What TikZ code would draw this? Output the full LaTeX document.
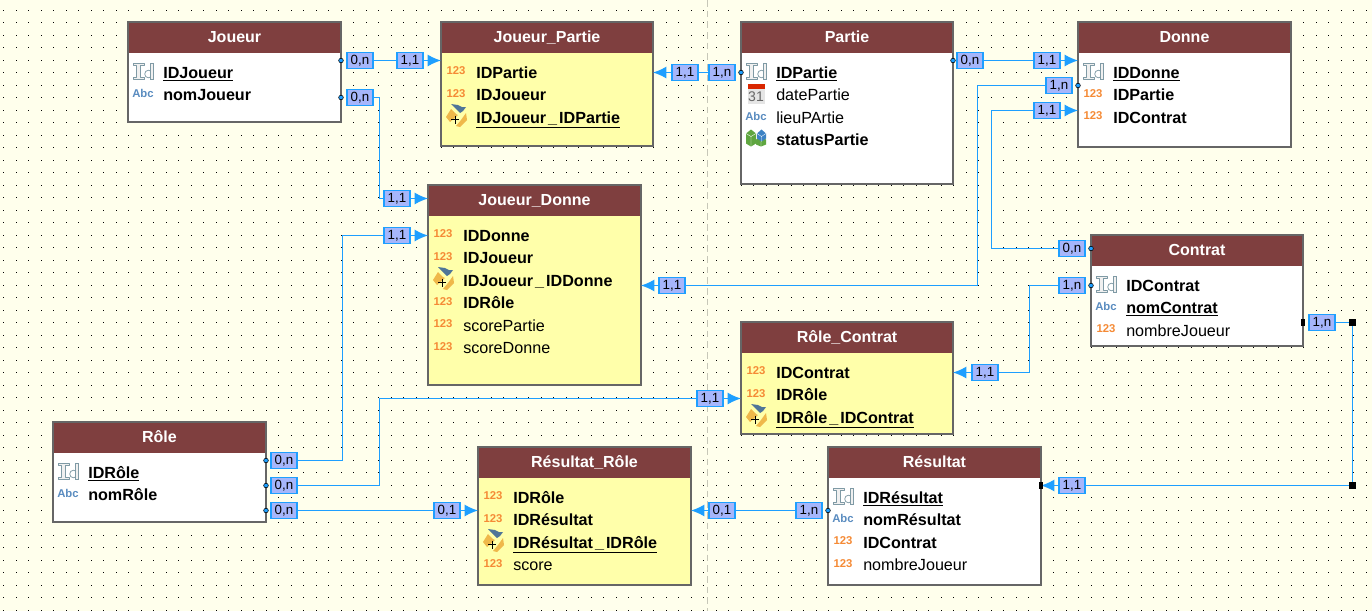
\documentclass[tikz,border=0pt]{standalone}
\usepackage{fontspec}
\setmainfont{Liberation Sans}
\usetikzlibrary{arrows.meta, calc}
\definecolor{fond}{HTML}{FFFFEC}
\definecolor{brique}{HTML}{7F3F3F}
\definecolor{jaune}{HTML}{FFFFAA}
\definecolor{bordure}{HTML}{666666}
\definecolor{lien}{HTML}{1E9FFF}
\definecolor{carte}{HTML}{A6B6FB}
\definecolor{orange123}{HTML}{F58A35}
\definecolor{bleuabc}{HTML}{5A8CC0}
\definecolor{grisid}{HTML}{7F9AA5}
\definecolor{orcle}{HTML}{EFB84A}
\definecolor{bleucle}{HTML}{4F7598}
\definecolor{vertcube}{HTML}{5FA640}
\definecolor{bleucube}{HTML}{3D82C4}
\tikzstyle{entite} = [
    rectangle,
    anchor = north west,
    draw = bordure,
    line width = 0.9pt,
    inner sep = 0pt,
    outer sep = 0pt,
]
\tikzstyle{titre} = [
    rectangle,
    anchor = north,
    fill = brique,
    text = white,
    font = \fontsize{12}{12}\selectfont\bfseries,
    minimum height = 22.5pt,
    inner sep = 0pt,
    outer sep = 0pt,
]
\tikzstyle{champ} = [
    anchor = base west,
    font = \fontsize{12.1}{12.1}\selectfont,
    inner sep = 0pt,
]
\tikzstyle{carte} = [
    rectangle,
    draw = lien,
    fill = carte,
    line width = 0.8pt,
    minimum width = 19.5pt,
    minimum height = 12pt,
    inner sep = 0pt,
    font = \fontsize{10}{10}\selectfont,
]
\tikzstyle{trait} = [draw = lien, line width = 1pt]
\tikzstyle{fleche} = [trait, -{Latex[length = 10pt, width = 9pt]}]
\tikzstyle{bout} = [circle, draw = black, fill = lien, line width = 0.4pt, minimum size = 3.5pt, inner sep = 0pt]
\tikzstyle{carre} = [rectangle, fill = black, minimum size = 5.5pt, inner sep = 0pt]
\tikzset{
    ident/.pic = {
        \filldraw [draw = grisid, fill = black!6, line width = 0.55pt, line join = round]
            (-10, -9) -- (1, -9) -- (1, -7) -- (-2.5, -7) -- (-2.5, 5) -- (1, 5) -- (1, 7) -- (-10, 7)
            -- (-10, 5) -- (-6.5, 5) -- (-6.5, -7) -- (-10, -7) -- cycle;
        \draw [grisid, line width = 0.55pt] (5.5, 2) circle (3.8);
        \filldraw [draw = grisid, fill = black!6, line width = 0.55pt] (7.5, -9) rectangle (10, 7);
    },
    nombre/.pic = {\node [text = orange123, font = \fontsize{8.5}{8.5}\selectfont\bfseries] at (0, -1) {123};},
    texte/.pic = {\node [text = bleuabc, font = \fontsize{8.5}{8.5}\selectfont\bfseries] at (0, -1) {Abc};},
    date/.pic = {
        \fill [black!10] (-8.5, -10) rectangle (8.5, 9);
        \fill [red!65!orange!85!black] (-8.5, -11) rectangle (8.5, -6);
        \node [text = black!60, font = \fontsize{10.5}{10.5}\selectfont] at (0, 2) {31};
    },
    groupe/.pic = {
        \fill [vertcube] (-10, -6) -- (-5, -10) -- (0, -6) -- (0, 4) -- (-5, 7) -- (-10, 4) -- cycle;
        \fill [vertcube] (0, 0) -- (5, -2) -- (10, 0) -- (10, 5) -- (5, 7) -- (0, 5) -- cycle;
        \fill [bleucube] (1, -6) -- (5.5, -10) -- (10, -6) -- (10, -1) -- (5.5, 2) -- (1, -1) -- cycle;
        \draw [white, line width = 0.3pt] (-10, -6) -- (-5, -3) -- (0, -6) (-5, -3) -- (-5, 7)
            (1, -6) -- (5.5, -3) -- (10, -6) (5.5, -3) -- (5.5, 2) (5, 2) -- (5, 7);
    },
    cle/.pic = {
        \fill [orcle] (-10, 0) -- (-5, -8) -- (0, -3) -- (2, -2) -- (-6, 5) -- cycle;
        \fill [orcle] (10, -4) -- (11, 3) -- (4, 10) -- (0, 9) -- (5, 3) -- cycle;
        \fill [bleucle] (-5, -13) -- (2, -12) -- (6, -10) -- (10, -10) -- (7, -6) -- (4, -4) -- cycle;
        \draw [black, line width = 0.75pt] (-5, 2.5) -- (3, 2.5) (-1, -1.5) -- (-1, 6.5);
    },
}
% nom, x1, y1, x2, y2, couleur, titre
\newcommand{\Entite}[7]{
    \node (#1) [entite, fill = #6, minimum width = {(#4 - #2) * 0.75pt}, minimum height = {(#5 - #3) * 0.75pt}] at (#2, #3) {};
    \node (#1-titre) [titre, minimum width = {(#4 - #2) * 0.75pt - 0.9pt}] at ($(#1.north) + (0, 1)$) {\raisebox{1.5pt}{#7}};
}
% nom, entite, rang, icone, texte
\newcommand{\Champ}[5]{
    \pic at ($(#2.north west) + (15, 50 + 22.5 * #3 - 22.5)$) {#4};
    \node (#1) [champ] at ($(#2.north west) + (35, 56 + 22.5 * #3 - 22.5)$) {#5};
}
\newcommand{\cle}[1]{\textbf{\underline{#1}}}
\newcommand{\sep}{\kern1.5pt\_\kern1.5pt}
\begin{document}
\begin{tikzpicture}[x = 0.75pt, y = -0.75pt]
    \fill [fond] (0, 0) rectangle (1372, 611);
    \useasboundingbox (0, 0) rectangle (1372, 611);

    \foreach \i in {0, ..., 109} {
        \foreach \j in {0, ..., 48} {
            \fill [black] ({floor(3.5 + 12.5 * \i)}, {floor(10 + 12.5 * \j)}) rectangle ++(1, 1);
        }
    }
    \draw [black!22!fond, line width = 0.8pt, dash pattern = on 5pt off 3pt] (707.5, 0) -- (707.5, 611);

    \Entite{Joueur}{128}{22}{341}{122}{white}{Joueur}
    \Champ{IDJoueur}{Joueur}{1}{ident}{\cle{IDJoueur}}
    \Champ{nomJoueur}{Joueur}{2}{texte}{\textbf{nomJoueur}}

    \Entite{Joueur_Partie}{441}{22}{653}{146}{jaune}{Joueur\_Partie}
    \Champ{JP_IDPartie}{Joueur_Partie}{1}{nombre}{\textbf{IDPartie}}
    \Champ{JP_IDJoueur}{Joueur_Partie}{2}{nombre}{\textbf{IDJoueur}}
    \Champ{JP_Cle}{Joueur_Partie}{3}{cle}{\cle{IDJoueur\sep IDPartie}}

    \Entite{Partie}{741}{22}{953}{184}{white}{Partie}
    \Champ{IDPartie}{Partie}{1}{ident}{\cle{IDPartie}}
    \Champ{datePartie}{Partie}{2}{date}{datePartie}
    \Champ{lieuPArtie}{Partie}{3}{texte}{lieuPArtie}
    \Champ{statusPartie}{Partie}{4}{groupe}{\textbf{statusPartie}}

    \Entite{Donne}{1078}{22}{1291}{147}{white}{Donne}
    \Champ{IDDonne}{Donne}{1}{ident}{\cle{IDDonne}}
    \Champ{D_IDPartie}{Donne}{2}{nombre}{\textbf{IDPartie}}
    \Champ{D_IDContrat}{Donne}{3}{nombre}{\textbf{IDContrat}}

    \Entite{Joueur_Donne}{428}{185}{641}{385}{jaune}{Joueur\_Donne}
    \Champ{JD_IDDonne}{Joueur_Donne}{1}{nombre}{\textbf{IDDonne}}
    \Champ{JD_IDJoueur}{Joueur_Donne}{2}{nombre}{\textbf{IDJoueur}}
    \Champ{JD_Cle}{Joueur_Donne}{3}{cle}{\textbf{IDJoueur\sep IDDonne}}
    \Champ{JD_IDRole}{Joueur_Donne}{4}{nombre}{\textbf{IDRôle}}
    \Champ{JD_scorePartie}{Joueur_Donne}{5}{nombre}{scorePartie}
    \Champ{JD_scoreDonne}{Joueur_Donne}{6}{nombre}{scoreDonne}

    \Entite{Contrat}{1091}{235}{1303}{346}{white}{Contrat}
    \Champ{IDContrat}{Contrat}{1}{ident}{\textbf{IDContrat}}
    \Champ{nomContrat}{Contrat}{2}{texte}{\cle{nomContrat}}
    \Champ{nombreJoueur}{Contrat}{3}{nombre}{nombreJoueur}

    \Entite{Role_Contrat}{741}{322}{953}{434}{jaune}{Rôle\_Contrat}
    \Champ{RC_IDContrat}{Role_Contrat}{1}{nombre}{\textbf{IDContrat}}
    \Champ{RC_IDRole}{Role_Contrat}{2}{nombre}{\textbf{IDRôle}}
    \Champ{RC_Cle}{Role_Contrat}{3}{cle}{\cle{IDRôle\sep IDContrat}}

    \Entite{Role}{53}{422}{266}{522}{white}{Rôle}
    \Champ{IDRole}{Role}{1}{ident}{\cle{IDRôle}}
    \Champ{nomRole}{Role}{2}{texte}{\textbf{nomRôle}}

    \Entite{Resultat_Role}{478}{447}{691}{585}{jaune}{Résultat\_Rôle}
    \Champ{RR_IDRole}{Resultat_Role}{1}{nombre}{\textbf{IDRôle}}
    \Champ{RR_IDResultat}{Resultat_Role}{2}{nombre}{\textbf{IDRésultat}}
    \Champ{RR_Cle}{Resultat_Role}{3}{cle}{\cle{IDRésultat\sep IDRôle}}
    \Champ{RR_score}{Resultat_Role}{4}{nombre}{score}

    \Entite{Resultat}{828}{447}{1041}{585}{white}{Résultat}
    \Champ{IDResultat}{Resultat}{1}{ident}{\cle{IDRésultat}}
    \Champ{nomResultat}{Resultat}{2}{texte}{\textbf{nomRésultat}}
    \Champ{R_IDContrat}{Resultat}{3}{nombre}{\textbf{IDContrat}}
    \Champ{R_nombreJoueur}{Resultat}{4}{nombre}{nombreJoueur}

    % cardinalites
    \node (JoueurJP) [carte] at (360, 60.5) {0,n};
    \node (JPJoueur) [carte] at (410, 60.5) {1,1};
    \node (JoueurJD) [carte] at (360, 97.5) {0,n};
    \node (JDJoueur) [carte] at (397, 198.5) {1,1};
    \node (PartieJP) [carte] at (722, 72.5) {1,n};
    \node (JPPartie) [carte] at (685, 72.5) {1,1};
    \node (PartieD) [carte] at (970, 60.5) {0,n};
    \node (DPartie) [carte] at (1047, 60.5) {1,1};
    \node (DonneJD) [carte] at (1059, 85.5) {1,n};
    \node (JDDonne) [carte] at (672, 285.5) {1,1};
    \node (ContratD) [carte] at (1072, 248.5) {0,n};
    \node (DContrat) [carte] at (1047, 110.5) {1,1};
    \node (ContratRC) [carte] at (1072, 285.5) {1,n};
    \node (RCContrat) [carte] at (985, 372.5) {1,1};
    \node (ContratR) [carte] at (1322, 322.5) {1,n};
    \node (RContrat) [carte] at (1072, 485.5) {1,1};
    \node (RoleJD) [carte] at (284, 460.5) {0,n};
    \node (JDRole) [carte] at (397, 235.5) {1,1};
    \node (RoleRC) [carte] at (284, 485.5) {0,n};
    \node (RCRole) [carte] at (710, 398.5) {1,1};
    \node (RoleRR) [carte] at (284, 510.5) {0,n};
    \node (RRRole) [carte] at (447, 510.5) {0,1};
    \node (ResultatRR) [carte] at (809, 510.5) {1,n};
    \node (RRResultat) [carte] at (722, 510.5) {0,1};

    % coudes des liens
    \coordinate (coudeJoueur) at (379.5, 0);
    \coordinate (coudeDonne) at (977.5, 0);
    \coordinate (coudeContrat) at (991.5, 0);
    \coordinate (coudeRC) at (1029.5, 0);
    \coordinate (coudeRole) at (342.5, 0);
    \coordinate (coudeRole2) at (379.5, 0);
    \node (carreHaut) [carre] at (1352.5, 322.5) {};
    \node (carreBas) [carre] at (1352.5, 485.5) {};

    \draw [trait] (JoueurJP) -- (JPJoueur);
    \draw [fleche] (JPJoueur) -- (Joueur_Partie.west |- JPJoueur);
    \draw [trait] (JoueurJD) -- (coudeJoueur |- JoueurJD) -- (coudeJoueur |- JDJoueur) -- (JDJoueur);
    \draw [fleche] (JDJoueur) -- (Joueur_Donne.west |- JDJoueur);
    \draw [trait] (PartieJP) -- (JPPartie);
    \draw [fleche] (JPPartie) -- (Joueur_Partie.east |- JPPartie);
    \draw [trait] (PartieD) -- (DPartie);
    \draw [fleche] (DPartie) -- (Donne.west |- DPartie);
    \draw [trait] (DonneJD) -- (coudeDonne |- DonneJD) -- (coudeDonne |- JDDonne) -- (JDDonne);
    \draw [fleche] (JDDonne) -- (Joueur_Donne.east |- JDDonne);
    \draw [trait] (ContratD) -- (coudeContrat |- ContratD) -- (coudeContrat |- DContrat) -- (DContrat);
    \draw [fleche] (DContrat) -- (Donne.west |- DContrat);
    \draw [trait] (ContratRC) -- (coudeRC |- ContratRC) -- (coudeRC |- RCContrat) -- (RCContrat);
    \draw [fleche] (RCContrat) -- (Role_Contrat.east |- RCContrat);
    \draw [trait] (ContratR) -- (carreHaut);
    \draw [trait] (carreHaut) -- (carreBas);
    \draw [trait] (carreBas) -- (RContrat);
    \draw [fleche] (RContrat) -- (Resultat.east |- RContrat);
    \draw [trait] (RoleJD) -- (coudeRole |- RoleJD) -- (coudeRole |- JDRole) -- (JDRole);
    \draw [fleche] (JDRole) -- (Joueur_Donne.west |- JDRole);
    \draw [trait] (RoleRC) -- (coudeRole2 |- RoleRC) -- (coudeRole2 |- RCRole) -- (RCRole);
    \draw [fleche] (RCRole) -- (Role_Contrat.west |- RCRole);
    \draw [trait] (RoleRR) -- (RRRole);
    \draw [fleche] (RRRole) -- (Resultat_Role.west |- RRRole);
    \draw [trait] (ResultatRR) -- (RRResultat);
    \draw [fleche] (RRResultat) -- (Resultat_Role.east |- RRResultat);

    % petites attaches
    \node [bout] at (Joueur.east |- JoueurJP) {};
    \node [bout] at (Joueur.east |- JoueurJD) {};
    \node [bout] at (Partie.west |- PartieJP) {};
    \node [bout] at (Partie.east |- PartieD) {};
    \node [bout] at (Donne.west |- DonneJD) {};
    \node [bout] at (Contrat.west |- ContratD) {};
    \node [bout] at (Contrat.west |- ContratRC) {};
    \node [bout] at (Role.east |- RoleJD) {};
    \node [bout] at (Role.east |- RoleRC) {};
    \node [bout] at (Role.east |- RoleRR) {};
    \node [bout] at (Resultat.west |- ResultatRR) {};
    \node [carre, minimum width = 3pt, minimum height = 5.5pt] at (Contrat.east |- ContratR) {};
    \node [carre, minimum width = 3pt, minimum height = 5.5pt] at (Resultat.east |- RContrat) {};
\end{tikzpicture}
\end{document}
